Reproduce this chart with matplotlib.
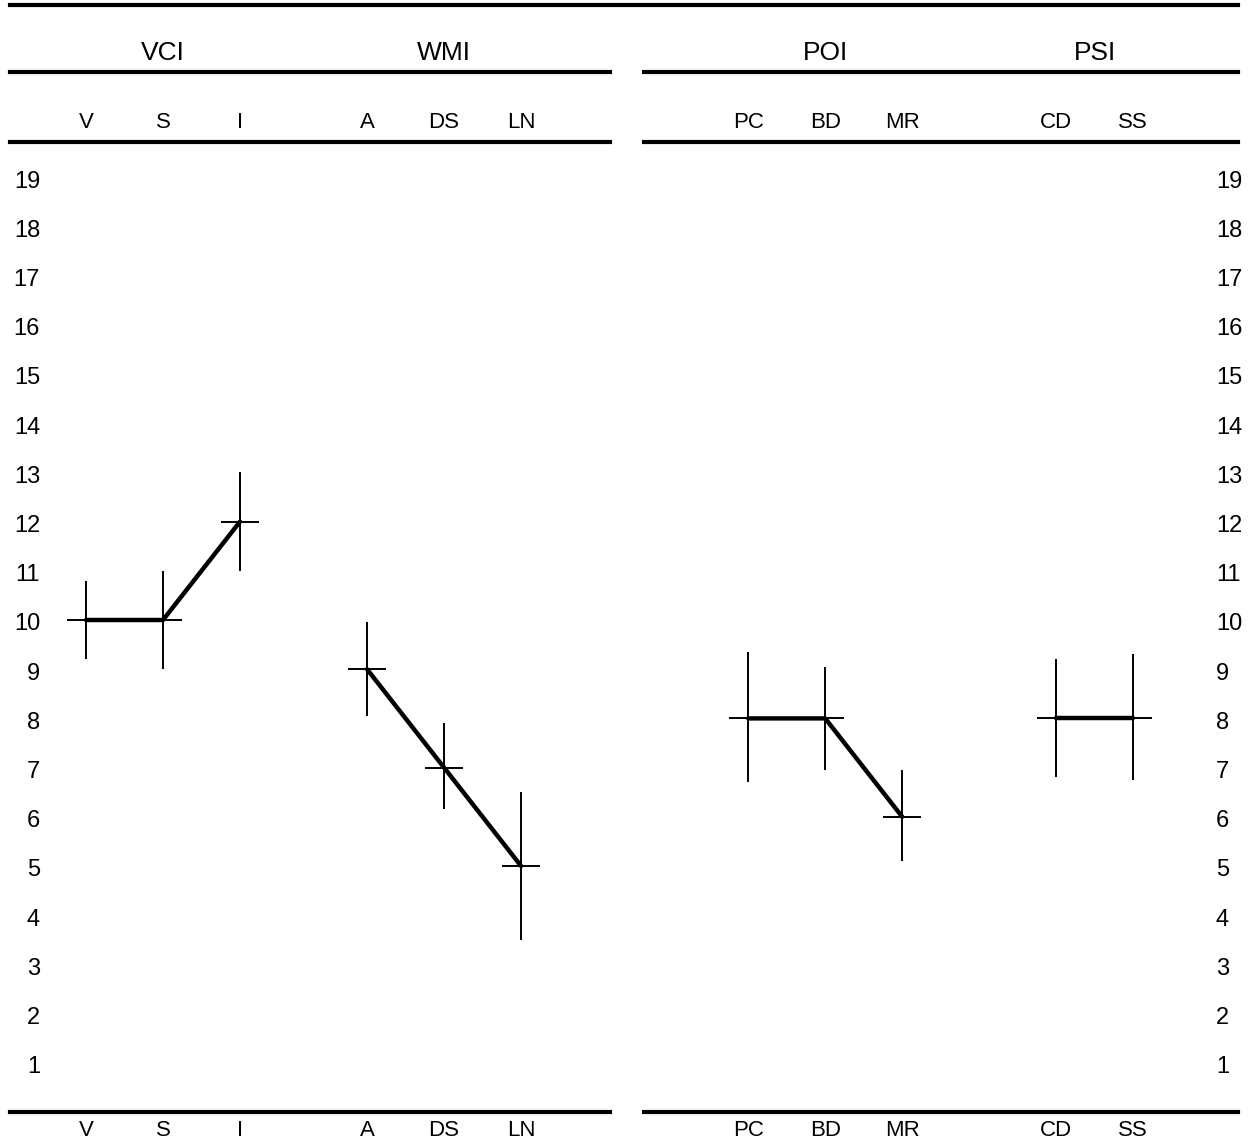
import numpy as np
import matplotlib.pyplot as plt
from matplotlib.transforms import blended_transform_factory

plt.rcParams['font.family'] = ['Liberation Sans', 'DejaVu Sans']

# subtest scaled scores with their confidence bands
subtests = ['V', 'S', 'I', 'A', 'DS', 'LN', 'PC', 'BD', 'MR', 'CD', 'SS']
scores = [10, 10, 12, 9, 7, 5, 8, 8, 6, 8, 8]
ci_low = [9.2, 9.0, 11.0, 8.05, 6.15, 3.5, 6.7, 6.95, 5.1, 6.8, 6.75]
ci_high = [10.8, 11.0, 13.0, 9.95, 7.9, 6.5, 9.35, 9.05, 6.95, 9.2, 9.3]
indexes = ['VCI', 'WMI', 'POI', 'PSI']
index_members = [['V', 'S', 'I'], ['A', 'DS', 'LN'], ['PC', 'BD', 'MR'], ['CD', 'SS']]
y_ticks = list(range(1, 20))

# layout: horizontal slot of each subtest (one slot = 77 px)
xpos = [0, 1, 2, 3.65, 4.65, 5.65, 8.6, 9.6, 10.6, 12.6, 13.6]

W, H = 1255, 1143
fig = plt.figure(figsize=(W / 100, H / 100), dpi=100)
ax = fig.add_axes([0, 0, 1, 1])
ax.set_xlim(-86 / 77, (W - 86) / 77)
ax.set_ylim(10 - (H - 620) / 49.2, 10 + 620 / 49.2)
ax.axis('off')

pos = dict(zip(subtests, xpos))
sc = dict(zip(subtests, scores))

# confidence bars with crossbars
s = np.array(scores, dtype=float)
yerr = [s - np.array(ci_low), np.array(ci_high) - s]
ax.errorbar(xpos, scores, yerr=yerr, xerr=0.25, fmt='none', ecolor='black',
            elinewidth=1.4, capsize=0)

# connect the subtests within each index
for members in index_members:
    ax.plot([pos[m] for m in members], [sc[m] for m in members], color='black',
            lw=3.2, solid_capstyle='round', zorder=3)


def fy(py):
    return 1 - py / H


def fx(px):
    return px / W


# rules across the top and bottom
lw = 3
fig.add_artist(plt.Line2D([fx(10), fx(1238)], [fy(5), fy(5)], color='black', lw=lw))
for y in [72, 142, 1112]:
    fig.add_artist(plt.Line2D([fx(10), fx(610)], [fy(y), fy(y)], color='black', lw=lw))
    fig.add_artist(plt.Line2D([fx(644), fx(1238)], [fy(y), fy(y)], color='black', lw=lw))

# index headers and subtest labels
tr = blended_transform_factory(ax.transData, fig.transFigure)
for name, members in zip(indexes, index_members):
    cx = np.mean([pos[m] for m in members])
    ax.text(cx, fy(53), name, transform=tr, ha='center', va='center', fontsize=19)
for name, x in zip(subtests, xpos):
    ax.text(x, fy(123), name, transform=tr, ha='center', va='center', fontsize=16)
    ax.text(x, fy(1131), name, transform=tr, ha='center', va='center', fontsize=16)

# score scale on both sides
tl = blended_transform_factory(fig.transFigure, ax.transData)
for v in y_ticks:
    ax.text(fx(40), v - 0.09, str(v), transform=tl, ha='right', va='center', fontsize=17)
    ax.text(fx(1216), v - 0.09, str(v), transform=tl, ha='left', va='center', fontsize=17)

fig.savefig('out.png', dpi=100)
